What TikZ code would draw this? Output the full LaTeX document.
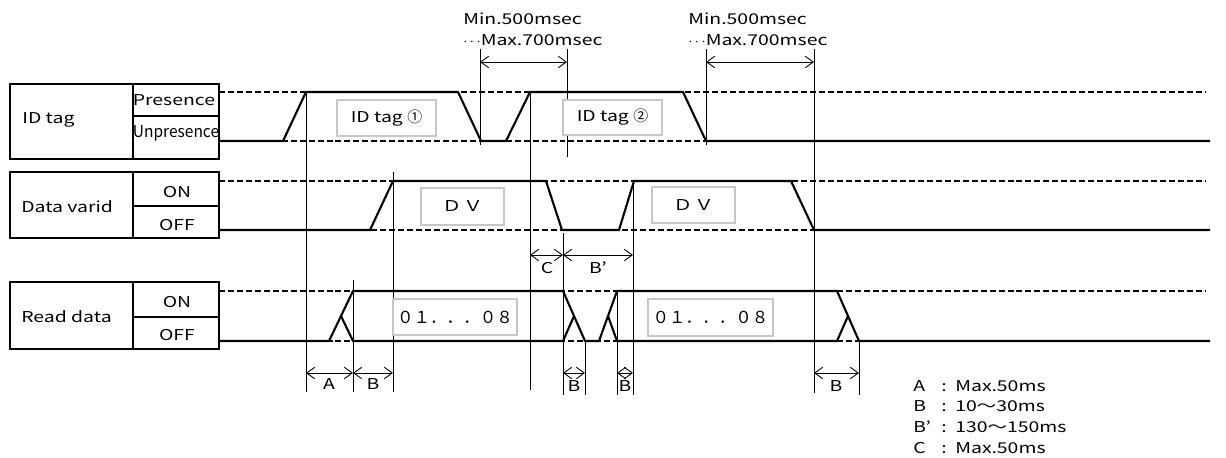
\documentclass[tikz,border=0pt]{standalone}
\usepackage{fontspec}
\usepackage{graphicx}
\setmainfont{Noto Sans CJK JP}[FakeStretch=1.3]
\newfontfamily\widefont{Noto Sans CJK JP}
\usetikzlibrary{arrows.meta}

\begin{document}
\begin{tikzpicture}[
  x=0.02cm, y=-0.02cm,
  every node/.append style={font=\fontsize{8.5pt}{10pt}\selectfont, inner sep=0pt},
  cell/.style={draw, line width=1.1pt},
  sig/.style={line width=1.2pt, line join=miter},
  lvl/.style={dash pattern=on 3.4pt off 1.7pt, line width=0.6pt},
  guide/.style={line width=0.5pt},
  dim/.style={{Straight Barb[length=4.5pt,width=6.5pt]}-{Straight Barb[length=4.5pt,width=6.5pt]}, line width=0.5pt},
  tagbox/.style={draw=black!22, line width=0.7pt, fill=white}
]
  \useasboundingbox (0,0) rectangle (1226,457);

  % signal name table
  \draw[cell] (10,84) rectangle (219,159) (133,84) -- (133,159) (133,116) -- (219,116);
  \draw[cell] (10,172) rectangle (219,238) (133,172) -- (133,238) (133,206) -- (219,206);
  \draw[cell] (10,282) rectangle (219,349) (133,282) -- (133,349) (133,317) -- (219,317);

  \node[anchor=base west] (idtag) at (22,123) {ID tag};
  \node[anchor=base] (pres) at (174,105) {Presence};
  \node[anchor=base] (unpres) at (176,137) {\scalebox{0.8}[1.1]{Unpresence}};
  \node[anchor=base west] (dvname) at (21,212) {Data varid};
  \node[anchor=base] (dvon) at (177,197) {ON};
  \node[anchor=base] (dvoff) at (177,230) {OFF};
  \node[anchor=base west] (rdname) at (21,322) {Read data};
  \node[anchor=base] (rdon) at (177,307) {ON};
  \node[anchor=base] (rdoff) at (177,340) {OFF};

  % levels
  \foreach \y in {92,141,181,230,291,341}
    \draw[lvl] (219,\y) -- (1206,\y);

  % guide lines
  \foreach \x/\a/\b in {306/92/392, 353/280/392, 393/172/392, 480/49/145,
      567/49/157, 530/92/390, 563/233/395, 585/341/395, 617/291/395,
      633/181/395, 706/49/145, 814/49/393, 859/341/395}
    \draw[guide] (\x,\a) -- (\x,\b);

  % ID tag
  \draw[sig] (219,141) -- (283,141) -- (306,92) -- (458,92) -- (481,141) -- (506,141)
    -- (530,92) -- (683,92) -- (706,141) -- (1210,141);
  % Data varid
  \draw[sig] (219,230) -- (370,230) -- (393,181) -- (546,181) -- (562,230) -- (619,230)
    -- (634,181) -- (791,181) -- (814,230) -- (1210,230);
  % Read data
  \draw[sig] (219,341) -- (329,341) -- (353,291) -- (563,291) -- (585,341) -- (599,341)
    -- (617,291) -- (837,291) -- (859,341) -- (1210,341);
  \draw[sig] (341,316) -- (353,341) -- (563,341) -- (574,316);
  \draw[sig] (608,316) -- (617,341) -- (837,341) -- (848,316);

  % boxed contents
  \node[tagbox, minimum width=99*0.02cm, minimum height=36*0.02cm] (tag1) at (386.5,118) {ID tag \widefont ①};
  \node[tagbox, minimum width=99*0.02cm, minimum height=35*0.02cm] (tag2) at (612.5,117.5) {ID tag \widefont ②};
  \node[tagbox, minimum width=83*0.02cm, minimum height=37*0.02cm] (dv1) at (462.5,206.5) {Ｄ\kern1ptＶ};
  \node[tagbox, minimum width=83*0.02cm, minimum height=36*0.02cm] (dv2) at (693.5,205) {Ｄ\kern1ptＶ};
  \node[tagbox, minimum width=124*0.02cm, minimum height=36*0.02cm] (rd1) at (455,317) {\widefont\fontsize{9.4pt}{10pt}\selectfont ０１．．．０８};
  \node[tagbox, minimum width=125*0.02cm, minimum height=37*0.02cm] (rd2) at (710.5,317.5) {\widefont\fontsize{9.4pt}{10pt}\selectfont ０１．．．０８};

  % dimensions
  \draw[dim] (480,62) -- (567,62);
  \draw[dim] (706,62) -- (814,62);
  \node[anchor=base west] (min1) at (463,24) {Min.500msec};
  \node[anchor=base west] (max1) at (463,45) {$\cdots$Max.700msec};
  \node[anchor=base west] (min2) at (688,24) {Min.500msec};
  \node[anchor=base west] (max2) at (688,45) {$\cdots$Max.700msec};

  \draw[dim] (530,255) -- (563,255);
  \draw[dim] (563,255) -- (633,255);
  \node[anchor=base] (lc) at (547,273) {C};
  \node[anchor=base] (lbp) at (598,273) {B'};

  \draw[dim] (306,373) -- (353,373);
  \draw[dim] (353,373) -- (393,373);
  \draw[dim] (563,373) -- (585,373);
  \draw[dim] (617,373) -- (633,373);
  \draw[dim] (814,373) -- (859,373);
  \node[anchor=base] (la) at (329,389) {A};
  \node[anchor=base] (lb1) at (373,389) {B};
  \node[anchor=base] (lb2) at (574,391) {B};
  \node[anchor=base] (lb3) at (625,391) {B};
  \node[anchor=base] (lb4) at (836,391) {B};

  % legend
  \foreach \k/\t/\yy in {A/Max.50ms/391, B/10～30ms/411, B'/130～150ms/432, C/Max.50ms/453}{
    \node[anchor=base west] (key\yy) at (913,\yy) {\k};
    \node[anchor=base west] (col\yy) at (941,\yy) {:};
    \node[anchor=base west] (val\yy) at (955,\yy) {\t};
  }
\end{tikzpicture}
\end{document}
